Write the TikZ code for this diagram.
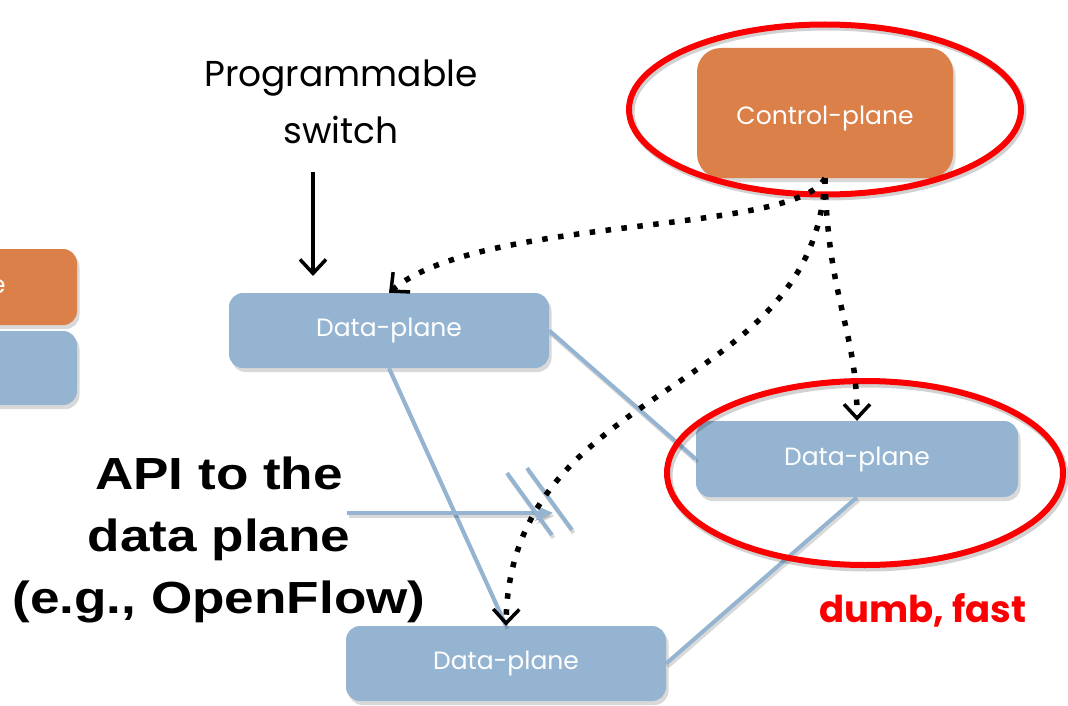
\documentclass[tikz,border=0pt]{standalone}
\usepackage{fontspec}
\setmainfont{Poppins}
\newfontfamily\apifont{Liberation Sans}[FakeStretch=1.18]
\usetikzlibrary{arrows.meta,shadows}
\definecolor{boxorange}{RGB}{219,128,72}
\definecolor{boxblue}{RGB}{148,180,210}
\definecolor{linkblue}{RGB}{148,180,210}
\definecolor{ringred}{RGB}{250,0,0}
\begin{document}
\begin{tikzpicture}[x=1pt,y=-1pt,
  plane/.style={rounded corners=14pt, minimum width=320pt, minimum height=75pt,
    inner sep=0pt, text=white, font=\fontsize{25}{28}\selectfont,
    drop shadow={shadow xshift=2.5pt,shadow yshift=-4pt,opacity=0.3}},
  dataplane/.style={plane, fill=boxblue},
  ctrlplane/.style={plane, fill=boxorange, rounded corners=24pt,
    minimum width=256pt, minimum height=130pt},
  lineshade/.style={preaction={draw=black, opacity=0.15, line width=4pt,
    transform canvas={xshift=1.5pt,yshift=-3pt}}},
  link/.style={draw=linkblue, line width=4pt, lineshade},
  barb/.style={-{Straight Barb[length=14pt,width=26pt,line width=3.5pt]}},
  ctrl/.style={line width=5.5pt, dash pattern=on 5.5pt off 10.5pt, barb},
  ring/.style={draw=ringred, line width=6pt},
  ringshade/.style={draw=black, opacity=0.18, line width=7pt},
  caption/.style={inner sep=0pt, anchor=base, font=\fontsize{36}{40}\selectfont},
]
\useasboundingbox (0,0) rectangle (1068,706);
\clip (0,0) rectangle (1068,706);

% partly visible boxes at the left edge
\node[plane, fill=boxorange, minimum height=76pt] (lo) at (-83,287) {Control-plane};
\node[plane, fill=boxblue, minimum height=74pt] (lb) at (-83,368) {};

% switch planes
\node[ctrlplane] (cp) at (825,113) {\raisebox{-12pt}[0pt][0pt]{Control-plane}};
\node[dataplane] (dp1) at (389,330.5) {Data-plane};
\node[dataplane, minimum width=322pt, minimum height=76pt] (dp2) at (857,459) {Data-plane};
\node[dataplane] (dp3) at (506,663.5) {Data-plane};

% data-plane links
\draw[link] (dp1.east) -- (dp2.west);
\draw[link] (dp1.south) -- (dp3.north);
\draw[link] (dp2.south) -- (dp3.east);

% API symbol
\coordinate (apis) at (347,513);
\coordinate (apie) at (553,513);
\coordinate (bara1) at (507,473);
\coordinate (bara2) at (552,535);
\coordinate (barb1) at (527,468);
\coordinate (barb2) at (572,530);
\draw[link, -{Stealth[length=18pt,width=16pt]}] (apis) -- (apie);
\draw[link] (bara1) -- (bara2);
\draw[link] (barb1) -- (barb2);

% highlight rings
\draw[ringshade] (827,112) ellipse [x radius=196, y radius=85];
\draw[ring] (825,109.5) ellipse [x radius=196, y radius=85];
\draw[ringshade] (867,476) ellipse [x radius=198, y radius=92];
\draw[ring] (865,473) ellipse [x radius=198, y radius=92];

% control channels
\draw[ctrl] (cp.south) .. controls (795,235) and (480,215) .. (dp1.north);
\draw[ctrl] (cp.south) .. controls (828,300) and (857,330) .. (dp2.north);
\draw[ctrl] (cp.south) .. controls (815,400) and (510,380) .. (dp3.north);

% labels
\node[caption] (prog) at (341,87) {Programmable};
\node[caption] (progb) at (341,143) {switch};
\coordinate (swtop) at (313,172);
\coordinate (swtip) at (313,276);
\draw[line width=3.5pt, barb] (swtop) -- (swtip);

\node[inner sep=0pt, align=center, font=\apifont\bfseries\fontsize{45}{62}\selectfont]
  (api) at (219,540) {API to the\\data plane\\(e.g., OpenFlow)};

\node[inner sep=0pt, anchor=base, text=ringred, font=\bfseries\fontsize{37}{40}\selectfont]
  (df) at (923,622) {dumb, fast};
\end{tikzpicture}
\end{document}
